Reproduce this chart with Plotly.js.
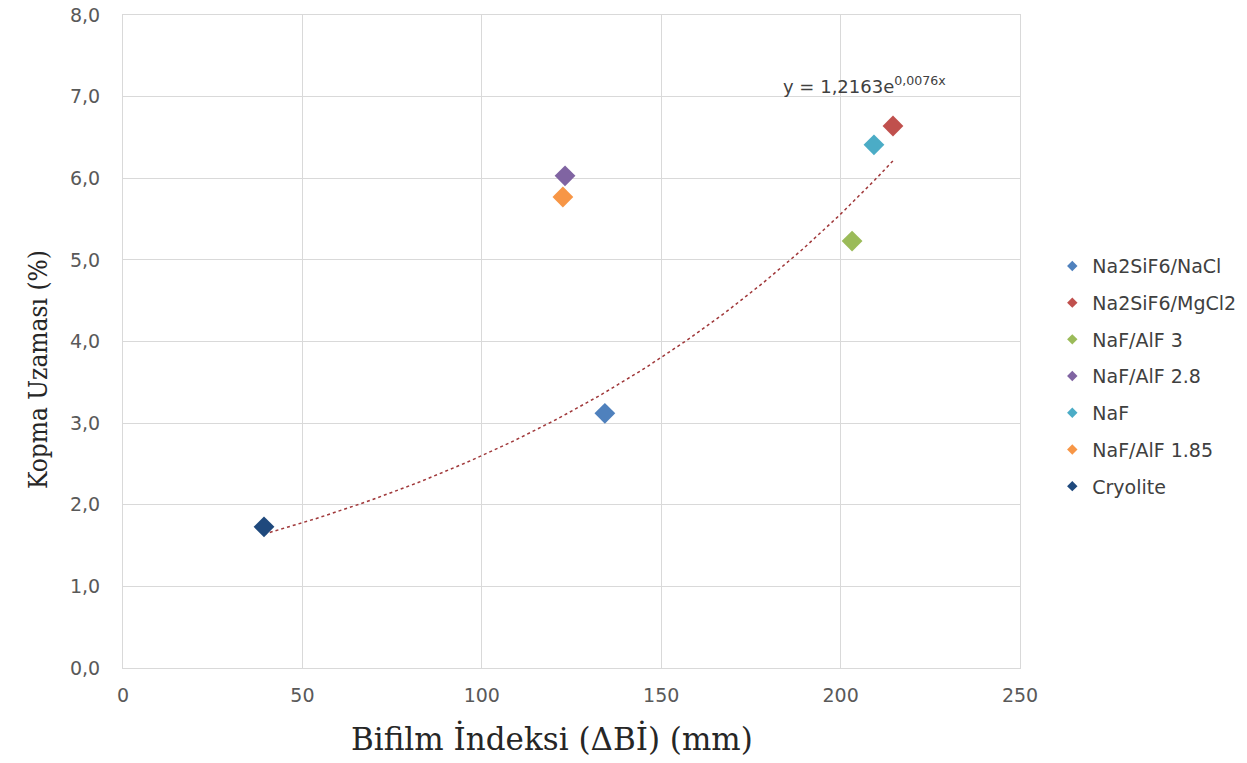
<!DOCTYPE html>
<html>
<head>
<meta charset="utf-8">
<script src="https://cdn.plot.ly/plotly-3.0.1.min.js"></script>
<style>html,body{margin:0;padding:0;background:#fff;}#chart{width:1247px;height:763px;}</style>
</head>
<body>
<div id="chart"></div>
<script>
// Data
const seriesNames = ["Na2SiF6/NaCl", "Na2SiF6/MgCl2", "NaF/AlF 3", "NaF/AlF 2.8", "NaF", "NaF/AlF 1.85", "Cryolite"];
const bifilmIndex = [134.3, 214.6, 203.2, 123.2, 209.3, 122.6, 39.3];
const elongation = [3.12, 6.64, 5.23, 6.03, 6.41, 5.77, 1.73];
const seriesColors = ["#4F81BD", "#C0504D", "#9BBB59", "#8064A2", "#4BACC6", "#F79646", "#1F497D"];
// Exponential trendline coefficients (as shown on the chart)
const fitA = 1.2163;
const fitB = 0.0076;
const xTicks = [0, 50, 100, 150, 200, 250];
const yTicks = [0, 1, 2, 3, 4, 5, 6, 7, 8];
const xTitle = 'Bifilm İndeksi (ΔBİ) (mm)';
const yTitle = 'Kopma Uzaması (%)';

const traces = [];
// trendline over the data range
const xMin = Math.min(...bifilmIndex), xMax = Math.max(...bifilmIndex);
const tx = [], ty = [];
for (let i = 0; i <= 100; i++) {
  const x = xMin + (xMax - xMin) * i / 100;
  tx.push(x); ty.push(fitA * Math.exp(fitB * x));
}
traces.push({x: tx, y: ty, mode: 'lines', type: 'scatter', showlegend: false, hoverinfo: 'skip',
  line: {color: '#A0383A', width: 1.5, dash: 'dot'}});

seriesNames.forEach((n, i) => {
  traces.push({x: [bifilmIndex[i]], y: [elongation[i]], mode: 'markers', type: 'scatter', name: n,
    showlegend: false,
    marker: {symbol: 'diamond', size: 16, color: seriesColors[i]}});
});
seriesNames.forEach((n, i) => {
  traces.push({x: [null], y: [null], mode: 'markers', type: 'scatter', name: n,
    legendgroup: 'g' + i,
    marker: {symbol: 'diamond', size: 8, color: seriesColors[i]}});
});

const gridC = '#D9D9D9';
const sans = 'DejaVu Sans, sans-serif';
const layout = {
  width: 1247, height: 763,
  margin: {l: 123, r: 227, t: 15, b: 95, autoexpand: false},
  paper_bgcolor: '#fff', plot_bgcolor: '#fff',
  separators: ',.',
  showlegend: true,
  legend: {x: 1.036, xanchor: 'left', y: 0.447, yanchor: 'middle', traceorder: 'grouped',
    tracegroupgap: 9, itemsizing: 'trace',
    font: {family: sans, size: 19, color: '#404040'}},
  xaxis: {range: [0, 250], tickvals: xTicks, ticktext: xTicks.map(String),
    showgrid: true, gridcolor: gridC, gridwidth: 1, zeroline: false,
    showline: true, mirror: true, linecolor: gridC, linewidth: 1, ticks: '', ticklabelstandoff: 10,
    tickfont: {family: sans, size: 19, color: '#595959'}},
  yaxis: {range: [0, 8], tickvals: yTicks, tickformat: '.1f',
    showgrid: true, gridcolor: gridC, gridwidth: 1, zeroline: false,
    showline: true, mirror: true, linecolor: gridC, linewidth: 1, ticks: '', ticklabelstandoff: 18,
    tickfont: {family: sans, size: 19, color: '#595959'}},
  annotations: [
    {x: 183.5, y: 7.14, xref: 'x', yref: 'y', xanchor: 'left', yanchor: 'middle',
      text: 'y = 1,2163e<sup>0,0076x</sup>', showarrow: false,
      font: {family: sans, size: 18, color: '#404040'}},
    // axis titles, placed where the reference draws them
    {x: (552 - 123) / 897, y: -(738 - 668) / 653, xref: 'paper', yref: 'paper',
      xanchor: 'center', yanchor: 'middle', text: xTitle, showarrow: false,
      font: {family: 'DejaVu Serif, serif', size: 31, color: '#262626'}},
    {x: -(123 - 38) / 897, y: (668 - 370) / 653, xref: 'paper', yref: 'paper',
      xanchor: 'center', yanchor: 'middle', text: yTitle, showarrow: false, textangle: -90,
      font: {family: 'DejaVu Serif Condensed, DejaVu Serif, serif', size: 26, color: '#262626'}}
  ]
};
Plotly.newPlot('chart', traces, layout, {displayModeBar: false, staticPlot: true});
</script>
</body>
</html>
